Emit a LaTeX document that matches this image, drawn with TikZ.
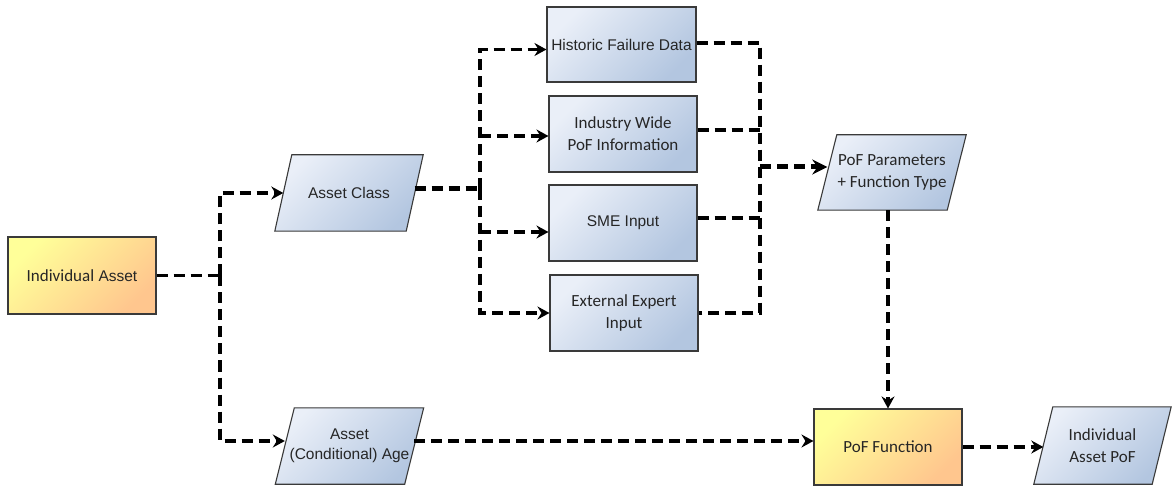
\documentclass[tikz,border=0pt]{standalone}
\usepackage{fontspec}
\setmainfont{Liberation Sans}
\newfontfamily\carl{Carlito}
\usetikzlibrary{arrows.meta,backgrounds,calc}

\definecolor{bL}{HTML}{EAEFF8}
\definecolor{bD}{HTML}{B3C6E0}
\definecolor{oL}{HTML}{FFFF99}
\definecolor{oD}{HTML}{FFC68E}
\definecolor{edge}{HTML}{3A3A3A}
\definecolor{txt}{HTML}{262626}

\tikzset{
  ar/.style={font=\fontsize{15.5}{20}\selectfont},
  ca/.style={font=\carl\fontsize{17}{22}\selectfont},
  box/.style={draw=edge, line width=1.1pt, inner sep=2pt, align=center, text=txt,
    minimum width=148pt, minimum height=76pt,
    top color=bL, bottom color=bD, shading angle=45},
  obox/.style={box, top color=oL, bottom color=oD, shading angle=45},
  ptext/.style={inner sep=0pt, align=center, text=txt},
  pshape/.style={draw=edge, line width=1.1pt, top color=bL, bottom color=bD, shading angle=45},
  conn/.style={line width=3.2pt, dash pattern=on 11pt off 6pt, draw=black},
  heavy/.style={line width=5pt, dash pattern=on 11pt off 6pt},
  tip/.style={-{Stealth[length=12pt,width=13pt,inset=4pt]}},
  bigtip/.style={-{Stealth[length=15pt,width=15pt,inset=5pt]}},
}

\newcommand\paragram[2]{%
  \path[pshape] ($(#1.south west)+(-#2,0)$) -- ($(#1.south east)+(-#2,0)$)
    -- ($(#1.north east)+(#2,0)$) -- ($(#1.north west)+(#2,0)$) -- cycle;}

\begin{document}
\begin{tikzpicture}[x=1pt,y=-1pt]
\useasboundingbox (0,0) rectangle (1173,486);

% nodes
\node[obox, minimum height=77pt, font=\fontsize{15.5}{20}\selectfont] (ia) at (82,275.5)
  {{\carl\fontsize{17}{22}\selectfont Individual} Asset};
\node[ptext, ar, minimum width=131pt, minimum height=76pt] (ac) at (349,193) {Asset Class};
\node[ptext, ar, minimum width=129pt, minimum height=76pt] (aa) at (349.5,446) {Asset\\(Conditional) Age};
\node[box, ar, minimum width=149pt, minimum height=75pt] (hf) at (621.5,44.5) {Historic Failure Data};
\node[box, ca] (iw) at (623,134) {Industry Wide\\PoF Information};
\node[box, ar] (sme) at (623,223) {SME Input};
\node[box, ca] (ee) at (624,313) {External Expert\\Input};
\node[ptext, ca, minimum width=129pt, minimum height=75pt] (pp) at (892,172.5) {PoF Parameters\\+ Function Type};
\node[obox, ca] (pf) at (888,447) {PoF Function};
\node[ptext, ca, minimum width=118pt, minimum height=77pt] (iap) at (1102.5,445.5) {Individual\\Asset PoF};

\begin{pgfonlayer}{background}
  \fill[white] (0,0) rectangle (1173,486);
  \paragram{ac}{8.5}
  \paragram{aa}{9.5}
  \paragram{pp}{9.5}
  \paragram{iap}{9.5}
\end{pgfonlayer}

% connection points
\coordinate (j1) at (220,275.5);
\coordinate (j2) at (480,189);
\coordinate (j3) at (760,167);
\coordinate (acout) at ($(ac.east)+(0,-4)$);
\coordinate (hfin) at ($(hf.west)+(0,5)$);
\coordinate (iwin) at ($(iw.west)+(0,2)$);
\coordinate (smein) at ($(sme.west)+(0,9)$);
\coordinate (hfout) at ($(hf.east)+(0,-1.5)$);
\coordinate (iwout) at ($(iw.east)+(0,-4)$);
\coordinate (smeout) at ($(sme.east)+(0,-5)$);
\coordinate (aain) at ($(aa.west)+(0,-5)$);
\coordinate (aaout) at ($(aa.east)+(0,-5)$);

\draw[conn] (ia.east) -- (j1);
\draw[conn,tip] (j1) |- (ac.west);
\draw[conn,tip] (j1) |- (aain);

\draw[conn,heavy] (acout) -- (j2);
\draw[conn,tip] (j2) |- (hfin);
\draw[conn,tip] (j2) |- (ee.west);
\draw[conn,tip] (j2 |- iwin) -- (iwin);
\draw[conn,tip] (j2 |- smein) -- (smein);

\draw[conn] (hfout) -- (hfout -| j3) -- (ee.east -| j3) -- (ee.east);
\draw[conn] (iwout) -- (iwout -| j3);
\draw[conn] (smeout) -- (smeout -| j3);
\draw[conn,heavy,bigtip] (j3) -- (j3 -| pp.west);

\draw[conn,tip] (pf.north |- pp.south) -- (pf.north);
\draw[conn,tip] (aaout) -- (aaout -| pf.west);
\draw[conn,tip] (pf.east) -- (pf.east -| iap.west);
\end{tikzpicture}
\end{document}
